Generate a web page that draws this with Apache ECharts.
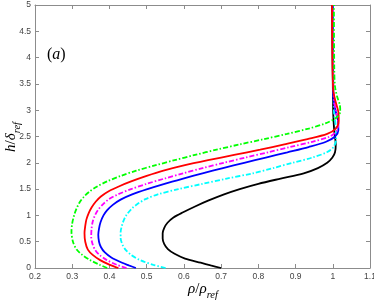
<!DOCTYPE html>
<html>
<head>
<meta charset="utf-8">
<script src="https://cdn.jsdelivr.net/npm/echarts@6/dist/echarts.min.js"></script>
<style>html,body{margin:0;padding:0;background:#fff}#c{width:374px;height:300px}</style>
</head>
<body>
<div id="c"></div>
<script>
// Tick labels
const xTickLabels = ['0.2','0.3','0.4','0.5','0.6','0.7','0.8','0.9','1','1.1'];
const yTickLabels = ['0','0.5','1','1.5','2','2.5','3','3.5','4','4.5','5'];

// Series: h/delta_ref values and rho/rho_ref values
const blackH = [0, 0.05, 0.1, 0.18, 0.27, 0.36, 0.46, 0.56, 0.66, 0.76, 0.86, 0.96, 1.06, 1.17, 1.28, 1.4, 1.5, 1.6, 1.7, 1.8, 1.9, 2.0, 2.1, 2.2, 2.35, 2.6, 3.0, 5.0];
const blackX = [0.700, 0.672, 0.645, 0.603, 0.575, 0.557, 0.547, 0.543, 0.543, 0.547, 0.556, 0.572, 0.598, 0.630, 0.665, 0.708, 0.750, 0.800, 0.860, 0.922, 0.960, 0.985, 0.999, 1.006, 1.008, 1.004, 1.001, 0.998];

const cyanH = [0, 0.06, 0.15, 0.25, 0.35, 0.46, 0.57, 0.68, 0.79, 0.9, 1.0, 1.13, 1.22, 1.31, 1.4, 1.5, 1.6, 1.7, 1.8, 1.9, 2.0, 2.1, 2.2, 2.3, 2.45, 2.7, 3.0, 5.0];
const cyanX = [0.551, 0.518, 0.482, 0.458, 0.443, 0.434, 0.430, 0.430, 0.433, 0.438, 0.445, 0.460, 0.476, 0.497, 0.530, 0.585, 0.650, 0.715, 0.785, 0.840, 0.892, 0.945, 0.984, 1.002, 1.009, 1.008, 1.003, 1.0];

const blueH = [0, 0.05, 0.1, 0.2, 0.3, 0.4, 0.5, 0.63, 0.75, 0.87, 1.0, 1.1, 1.2, 1.3, 1.4, 1.5, 1.6, 1.7, 1.8, 1.9, 2.0, 2.1, 2.2, 2.3, 2.4, 2.5, 2.62, 2.8, 3.0, 3.3, 5.0];
const blueX = [0.471, 0.452, 0.434, 0.405, 0.387, 0.377, 0.372, 0.370, 0.372, 0.376, 0.384, 0.394, 0.409, 0.430, 0.461, 0.502, 0.548, 0.598, 0.650, 0.705, 0.762, 0.820, 0.878, 0.935, 0.982, 1.006, 1.015, 1.014, 1.007, 1.001, 1.0];

const magentaH = [0, 0.06, 0.15, 0.25, 0.35, 0.47, 0.6, 0.75, 0.88, 1.0, 1.1, 1.2, 1.3, 1.4, 1.5, 1.6, 1.7, 1.8, 1.9, 2.0, 2.1, 2.2, 2.3, 2.4, 2.5, 2.6, 2.75, 2.95, 3.2, 5.0];
const magentaX = [0.446, 0.420, 0.393, 0.373, 0.361, 0.354, 0.351, 0.352, 0.355, 0.361, 0.369, 0.381, 0.397, 0.423, 0.458, 0.500, 0.548, 0.598, 0.650, 0.707, 0.765, 0.826, 0.885, 0.945, 0.992, 1.010, 1.015, 1.010, 1.003, 1.0];

const redH = [0, 0.06, 0.15, 0.25, 0.35, 0.5, 0.66, 0.8, 0.92, 1.04, 1.15, 1.26, 1.36, 1.46, 1.55, 1.65, 1.75, 1.85, 1.95, 2.05, 2.15, 2.25, 2.35, 2.45, 2.55, 2.65, 2.8, 2.97, 3.15, 3.4, 5.0];
const redX = [0.424, 0.401, 0.375, 0.355, 0.342, 0.335, 0.333, 0.335, 0.338, 0.344, 0.352, 0.363, 0.377, 0.398, 0.425, 0.460, 0.500, 0.545, 0.600, 0.665, 0.735, 0.805, 0.870, 0.932, 0.985, 1.008, 1.016, 1.015, 1.008, 1.001, 0.998];

const greenH = [0, 0.06, 0.15, 0.25, 0.35, 0.5, 0.69, 0.85, 1.0, 1.12, 1.25, 1.35, 1.45, 1.55, 1.65, 1.75, 1.85, 1.95, 2.05, 2.15, 2.25, 2.35, 2.45, 2.55, 2.65, 2.75, 2.85, 2.97, 3.1, 3.25, 3.45, 3.8, 5.0];
const greenX = [0.394, 0.374, 0.348, 0.327, 0.312, 0.302, 0.298, 0.300, 0.305, 0.311, 0.320, 0.331, 0.346, 0.367, 0.395, 0.430, 0.472, 0.522, 0.575, 0.630, 0.688, 0.750, 0.815, 0.877, 0.935, 0.980, 1.008, 1.020, 1.019, 1.012, 1.006, 1.004, 1.003];

function pairs(xs, hs) { return xs.map((x, i) => [x, hs[i]]); }
function nearestLabel(arr, v, start, step) {
  const i = Math.round((v - start) / step);
  return arr[i] !== undefined ? arr[i] : '';
}

const dashDot = [5, 2, 1.5, 2];
function mkSeries(name, xs, hs, color, dashed) {
  return {
    name: name, type: 'line', xAxisIndex: 0, yAxisIndex: 0,
    data: pairs(xs, hs), showSymbol: false, smooth: 0.3,
    lineStyle: { color: color, width: 1.8, type: dashed ? dashDot : 'solid' },
    silent: true
  };
}

const axisGray = '#8c8c8c';
const labelStyle = { color: '#444', fontSize: 8.5, fontFamily: 'Liberation Sans, Arial, sans-serif' };
const nameRich = {
  m: { fontFamily: 'Liberation Serif', fontStyle: 'italic', fontSize: 15, lineHeight: 16, fill: '#000', verticalAlign: 'middle' },
  n: { fontFamily: 'Liberation Serif', fontSize: 15, lineHeight: 16, fill: '#000', verticalAlign: 'middle' },
  s: { fontFamily: 'Liberation Serif', fontStyle: 'italic', fontSize: 10.5, lineHeight: 10, fill: '#000', verticalAlign: 'bottom', padding: [0, 0, -4, 0] }
};

const chart = echarts.init(document.getElementById('c'), null, { renderer: 'canvas' });
chart.setOption({
  animation: false,
  backgroundColor: '#fff',
  grid: { left: 35, right: 4, top: 5, bottom: 32, containLabel: false, outerBoundsMode: 'none' },
  xAxis: [
    {
      type: 'value', min: 0.2, max: 1.1, interval: 0.1, position: 'bottom',
      axisLine: { show: true, onZero: false, lineStyle: { color: axisGray, width: 1 } },
      axisTick: { show: true, inside: true, length: 4, lineStyle: { color: axisGray } },
      axisLabel: Object.assign({ margin: 4, formatter: v => nearestLabel(xTickLabels, v, 0.2, 0.1) }, labelStyle),
      splitLine: { show: false }
    },
    {
      type: 'value', min: 0.2, max: 1.1, interval: 0.1, position: 'top',
      axisLine: { show: true, onZero: false, lineStyle: { color: axisGray, width: 1 } },
      axisTick: { show: true, inside: true, length: 4, lineStyle: { color: axisGray } },
      axisLabel: { show: false }, splitLine: { show: false }
    }
  ],
  yAxis: [
    {
      type: 'value', min: 0, max: 5, interval: 0.5, position: 'left',
      axisLine: { show: true, onZero: false, lineStyle: { color: axisGray, width: 1 } },
      axisTick: { show: true, inside: true, length: 4, lineStyle: { color: axisGray } },
      axisLabel: Object.assign({ margin: 4, formatter: v => nearestLabel(yTickLabels, v, 0, 0.5) }, labelStyle),
      splitLine: { show: false }
    },
    {
      type: 'value', min: 0, max: 5, interval: 0.5, position: 'right',
      axisLine: { show: true, onZero: false, lineStyle: { color: axisGray, width: 1 } },
      axisTick: { show: true, inside: true, length: 4, lineStyle: { color: axisGray } },
      axisLabel: { show: false }, splitLine: { show: false }
    }
  ],
  graphic: [
    {
      type: 'text', left: 47, top: 47,
      style: {
        text: '{p|(}{i|a}{p|)}',
        rich: {
          p: { fontFamily: 'Liberation Serif', fontSize: 16, fill: '#000' },
          i: { fontFamily: 'Liberation Serif', fontStyle: 'italic', fontSize: 16, fill: '#000' }
        }
      }
    },
    {
      type: 'text', x: 203, y: 289,
      style: { text: '{m|ρ}{n|/}{m|ρ}{s|ref}', rich: nameRich, align: 'center', verticalAlign: 'middle' }
    },
    {
      type: 'text', x: 11, y: 137, rotation: Math.PI / 2,
      style: { text: '{m|h}{n|/}{m|δ}{s|ref}', rich: nameRich, align: 'center', verticalAlign: 'middle' }
    }
  ],
  series: [
    mkSeries('black', blackX, blackH, '#000000', false),
    mkSeries('cyan', cyanX, cyanH, '#00ffff', true),
    mkSeries('blue', blueX, blueH, '#0000ff', false),
    mkSeries('magenta', magentaX, magentaH, '#ff00ff', true),
    mkSeries('red', redX, redH, '#ff0000', false),
    mkSeries('green', greenX, greenH, '#00ff00', true)
  ]
});
</script>
</body>
</html>
